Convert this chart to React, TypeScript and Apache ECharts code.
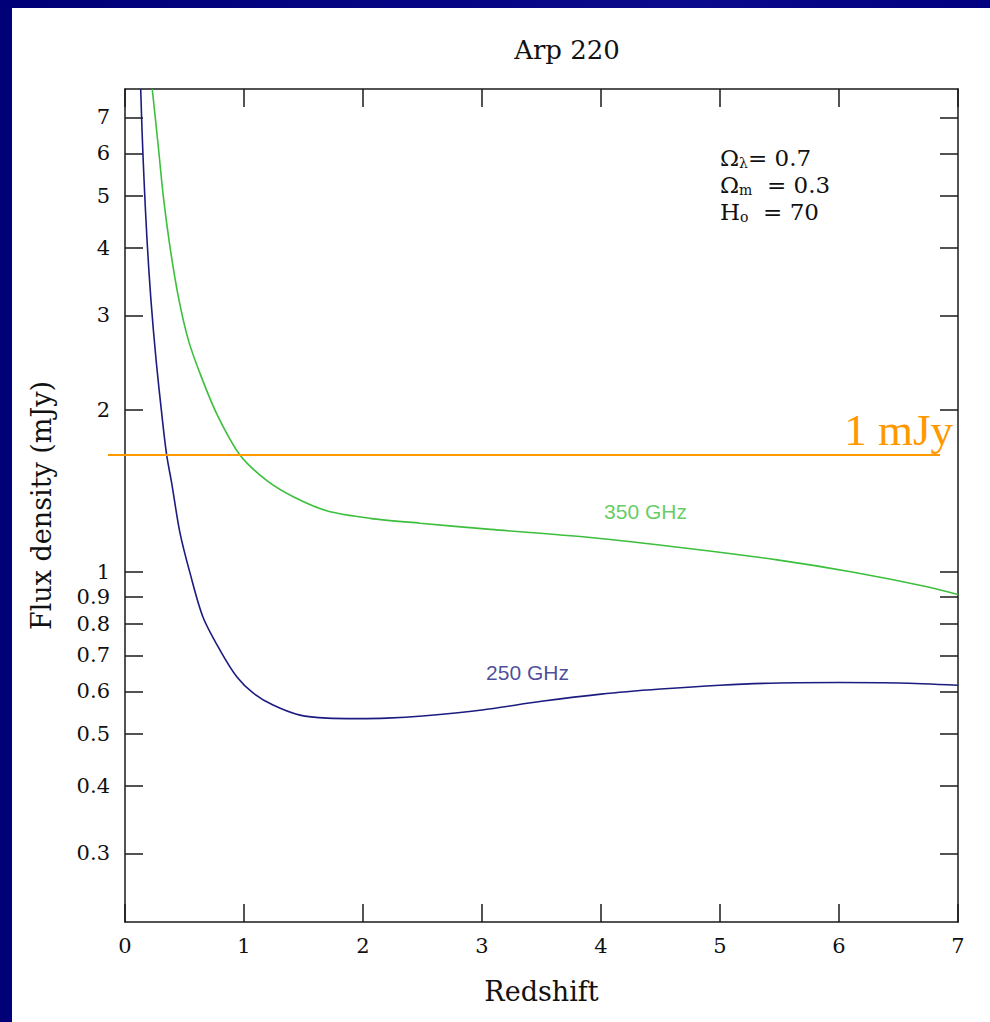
import React, { useEffect, useRef } from "react";
import * as echarts from "echarts";

// ---- data ----
const redshift250 = [0.132, 0.143, 0.16, 0.185, 0.218, 0.261, 0.308, 0.35, 0.392, 0.462, 0.546, 0.655, 0.798, 0.941, 1.076, 1.244, 1.47, 1.7, 1.95, 2.2, 2.5, 3.0, 3.5, 4.0, 4.5, 5.0, 5.5, 6.0, 6.5, 7.0];
const flux250 = [7.9, 6.63, 5.35, 4.14, 3.2, 2.48, 1.975, 1.65, 1.464, 1.182, 0.996, 0.825, 0.716, 0.638, 0.596, 0.566, 0.542, 0.535, 0.534, 0.535, 0.54, 0.554, 0.575, 0.593, 0.606, 0.616, 0.622, 0.623, 0.622, 0.616];

const redshift350 = [0.229, 0.28, 0.322, 0.378, 0.448, 0.532, 0.63, 0.77, 0.966, 1.19, 1.414, 1.695, 2.06, 2.48, 3.07, 3.89, 4.72, 5.48, 6.11, 6.74, 7.0];
const flux350 = [7.9, 6.17, 4.99, 4.02, 3.25, 2.7, 2.34, 1.97, 1.65, 1.48, 1.38, 1.3, 1.258, 1.232, 1.2, 1.16, 1.107, 1.053, 1.0, 0.939, 0.908];

const yTicks = [0.3, 0.4, 0.5, 0.6, 0.7, 0.8, 0.9, 1, 2, 3, 4, 5, 6, 7];
const yMin = 0.2236;
const yMax = 7.9;

const seriesLabels = [
  { name: "350 GHz", z: 4.374, flux: 1.293, color: "#3cbf3c" },
  { name: "250 GHz", z: 3.382, flux: 0.65, color: "#1c1c80" },
];

const oneMjyLevel = 1.65;

const SERIF = "'DejaVu Serif', serif";

export default function App() {
  const ref = useRef<HTMLDivElement>(null);

  useEffect(() => {
    if (!ref.current) return;
    const chart = echarts.init(ref.current, null, { renderer: "svg" });

    const axisLine = { show: true, onZero: false, lineStyle: { color: "#1a1a1a", width: 1.5 } };
    const tickStyle = { show: true, inside: true, length: 18, lineStyle: { color: "#1a1a1a", width: 1.5 } };
    const fmt = (v: number) => String(+Number(v).toPrecision(3));

    const option: any = {
      animation: false,
      backgroundColor: {
        type: "linear",
        x: 0, y: 0, x2: 1, y2: 0,
        colorStops: [
          { offset: 0, color: "#000078" },
          { offset: 0.7, color: "#0a0a8c" },
          { offset: 1, color: "#000080" },
        ],
      },
      title: {
        text: "Arp 220",
        left: 562,
        top: 32,
        textAlign: "center",
        textStyle: { fontFamily: SERIF, fontSize: 26, fontWeight: "normal", color: "#111" },
      },
      grid: { left: 125, right: 32, top: 89, bottom: 100, containLabel: false },
      xAxis: [
        {
          type: "value",
          min: 0,
          max: 7,
          interval: 1,
          position: "bottom",
          name: "Redshift",
          nameLocation: "middle",
          nameGap: 56,
          nameTextStyle: { fontFamily: SERIF, fontSize: 27, color: "#111" },
          axisLine,
          axisTick: tickStyle,
          splitLine: { show: false },
          axisLabel: {
            margin: 13,
            fontFamily: SERIF,
            fontSize: 21,
            color: "#111",
          },
        },
        {
          type: "value",
          min: 0,
          max: 7,
          interval: 1,
          position: "top",
          axisLine,
          axisTick: tickStyle,
          splitLine: { show: false },
          axisLabel: { show: false },
        },
      ],
      yAxis: [
        {
          type: "log",
          logBase: 10,
          min: yMin,
          max: yMax,
          position: "left",
          name: "Flux density (mJy)",
          nameLocation: "middle",
          nameRotate: 90,
          nameGap: 70,
          nameTextStyle: { fontFamily: SERIF, fontSize: 27, color: "#111" },
          axisLine,
          axisTick: { ...tickStyle, customValues: yTicks },
          splitLine: { show: false },
          axisLabel: {
            margin: 15,
            fontFamily: SERIF,
            fontSize: 21,
            color: "#111",
            customValues: yTicks,
            formatter: fmt,
          },
        },
        {
          type: "log",
          logBase: 10,
          min: yMin,
          max: yMax,
          position: "right",
          axisLine,
          axisTick: { ...tickStyle, customValues: yTicks },
          splitLine: { show: false },
          axisLabel: { show: false },
        },
      ],
      series: [
        {
          name: "350 GHz",
          type: "line",
          data: redshift350.map((z, i) => [z, flux350[i]]),
          showSymbol: false,
          smooth: 0.3,
          lineStyle: { color: "#3cbf3c", width: 1.6 },
          clip: true,
          z: 3,
        },
        {
          name: "250 GHz",
          type: "line",
          data: redshift250.map((z, i) => [z, flux250[i]]),
          showSymbol: false,
          smooth: 0.3,
          lineStyle: { color: "#1c1c80", width: 1.6 },
          clip: true,
          z: 3,
        },
        {
          name: "labels",
          type: "scatter",
          symbolSize: 0,
          data: seriesLabels.map((s) => ({
            name: s.name,
            value: [s.z, s.flux],
            label: {
              show: true,
              position: "inside",
              formatter: "{b}",
              color: s.color,
              fontFamily: "'Liberation Sans', Arial, sans-serif",
              fontSize: 21,
            },
          })),
          z: 4,
        },
      ],
      graphic: [
        {
          type: "rect",
          z: -100,
          silent: true,
          shape: { x: 12, y: 8, width: 978, height: 1014 },
          style: { fill: "#ffffff" },
        },
        {
          type: "text",
          x: 720,
          y: 144,
          z: 10,
          style: {
            text: "{o|Ω}{s|λ}{o|= 0.7}\n{o|Ω}{s|m}{o|  = 0.3}\n{o|H}{s|o}{o|  = 70}",
            rich: {
              o: { fontFamily: SERIF, fontSize: 23, fill: "#111", lineHeight: 27 },
              s: { fontFamily: SERIF, fontSize: 14, fill: "#111", padding: [11, 0, 0, 0], lineHeight: 27 },
            },
          },
        },
      ],
    };

    chart.setOption(option);

    const yPix = chart.convertToPixel({ yAxisIndex: 0 }, oneMjyLevel) as number;
    chart.setOption({
      graphic: [
        option.graphic[0],
        option.graphic[1],
        {
          type: "line",
          z: 10,
          shape: { x1: 108, y1: yPix, x2: 940, y2: yPix },
          style: { stroke: "#ff9900", lineWidth: 2 },
        },
        {
          type: "text",
          x: 953,
          y: yPix - 2,
          z: 11,
          style: {
            text: "1 mJy",
            align: "right",
            verticalAlign: "bottom",
            fontFamily: "'Liberation Serif', 'Times New Roman', serif",
            fontSize: 45,
            fill: "#ff9900",
          },
        },
      ],
    });

    return () => chart.dispose();
  }, []);

  return (
    <div
      ref={ref}
      style={{ position: "absolute", left: 0, top: 0, width: 990, height: 1022 }}
    />
  );
}
